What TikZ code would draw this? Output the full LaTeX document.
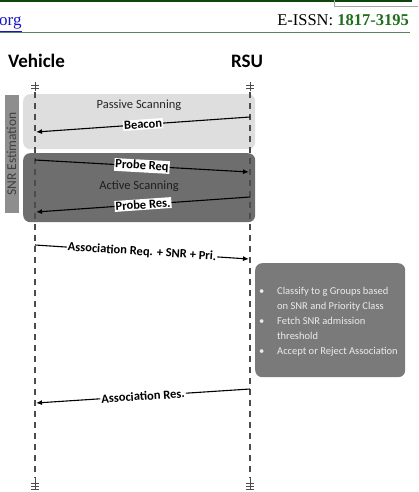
\documentclass[tikz,border=0pt]{standalone}
\usepackage{fontspec}
\setmainfont{Carlito}
\newfontfamily\headfont{Liberation Serif}
\usetikzlibrary{arrows.meta, positioning, calc}

\definecolor{hdgreen}{RGB}{12,70,12}
\definecolor{rulegreen}{RGB}{90,130,90}
\definecolor{issngreen}{RGB}{30,110,30}
\definecolor{linkblue}{RGB}{20,20,200}
\definecolor{passgray}{RGB}{222,222,222}
\definecolor{actgray}{RGB}{110,110,110}
\definecolor{snrgray}{RGB}{142,142,142}
\definecolor{boxgray}{RGB}{122,122,122}

\begin{document}
\begin{tikzpicture}[
    x=1pt, y=-1pt,
    actor/.style={font=\fontsize{19}{20}\selectfont\bfseries, anchor=base, inner sep=0pt},
    lifeline/.style={draw=black!70, line width=1.2pt, dash pattern=on 6pt off 5pt},
    terminal/.style={draw=black!70, line width=1pt},
    msg/.style={draw, line width=1.1pt, -{Latex[length=6pt, width=5pt]}},
    msglabel/.style={font=\fontsize{12.5}{13}\selectfont\bfseries, fill=white, sloped, midway, inner sep=1pt},
    phase/.style={rounded corners=7pt, anchor=north west, inner sep=0pt},
    phaselabel/.style={font=\fontsize{12.5}{13}\selectfont, text=black!85},
    steps/.style={font=\fontsize{10.5}{15}\selectfont, text=black!8, anchor=west, inner sep=0pt},
  ]
  \useasboundingbox (0,0) rectangle (418,492);

  % page header
  \fill[hdgreen] (0,0) rectangle (412,2.5);
  \draw[black!35, line width=0.8pt] (334,0) -- (334,6) -- (418,6);
  \node[anchor=base west, inner sep=0pt, font=\headfont\fontsize{17}{18}\selectfont, text=linkblue] (site) at (-1,26) {\underline{org}};
  \node[anchor=base east, inner sep=0pt, font=\headfont\fontsize{16.5}{18}\selectfont] (issn) at (409,26) {E-ISSN: \textbf{\color{issngreen}1817-3195}};
  \draw[rulegreen, line width=0.9pt] (0,32) -- (410,32);

  % actors
  \node[actor] (vehicle) at (36.5,68) {Vehicle};
  \node[actor] (rsu) at (247,68) {RSU};

  % phase boxes
  \node[phase, fill=passgray, minimum width=232pt, minimum height=55pt] (passive) at (23,94) {};
  \node[phase, fill=actgray, minimum width=232pt, minimum height=69pt] (active) at (23,153) {};
  \node[phase, fill=boxgray, minimum width=150pt, minimum height=114pt] (decide) at (255,263) {};
  \node[phaselabel] (passtxt) at (139,105) {Passive Scanning};
  \node[phaselabel, text=black!88] (acttxt) at (139,186) {Active Scanning};
  \node[fill=snrgray, rotate=90, minimum width=118pt, minimum height=14pt, inner sep=0pt,
        font=\fontsize{13.5}{13.5}\selectfont, text=black!75] (snr) at (11.5,154) {SNR Estimation};

  % lifelines
  \foreach \who/\x in {veh/35, rsu/250} {
    \coordinate (\who top) at (\x,82);
    \coordinate (\who bot) at (\x,490);
    \draw[terminal] (\who top) -- ++(0,9);
    \draw[terminal] (\x-4,86) -- (\x+4,86) (\x-4,89) -- (\x+4,89);
    \draw[lifeline] (\x,92) -- (\x,478);
    \draw[terminal] (\x,477) -- (\who bot);
    \foreach \yb in {483,486,489}
      \draw[terminal] (\x-4,\yb) -- (\x+4,\yb);
  }

  % messages
  \coordinate (beacon s) at (250,117);   \coordinate (beacon e) at (36,132);
  \coordinate (preq s) at (35,160);      \coordinate (preq e) at (249,172);
  \coordinate (pres s) at (250,197);     \coordinate (pres e) at (36,212);
  \coordinate (areq s) at (35,245);      \coordinate (areq e) at (249,259);
  \coordinate (ares s) at (250,389);     \coordinate (ares e) at (36,403);

  \draw[msg] (beacon s) -- (beacon e) node[msglabel] {Beacon};
  \draw[msg] (preq s) -- (preq e) node[msglabel] {Probe Req};
  \draw[msg] (pres s) -- (pres e) node[msglabel] {Probe Res.};
  \draw[msg] (areq s) -- (areq e) node[msglabel] {Association Req. + SNR + Pri.};
  \draw[msg] (ares s) -- (ares e) node[msglabel] {Association Res.};

  % RSU decision
  \node[steps] (rules) at (259,321) {%
    \begin{tabular}{@{}p{18pt}@{}l@{}}
      \textbullet & Classify to g Groups based\\
                  & on SNR and Priority Class\\
      \textbullet & Fetch SNR admission\\
                  & threshold\\
      \textbullet & Accept or Reject Association
    \end{tabular}};
\end{tikzpicture}
\end{document}
